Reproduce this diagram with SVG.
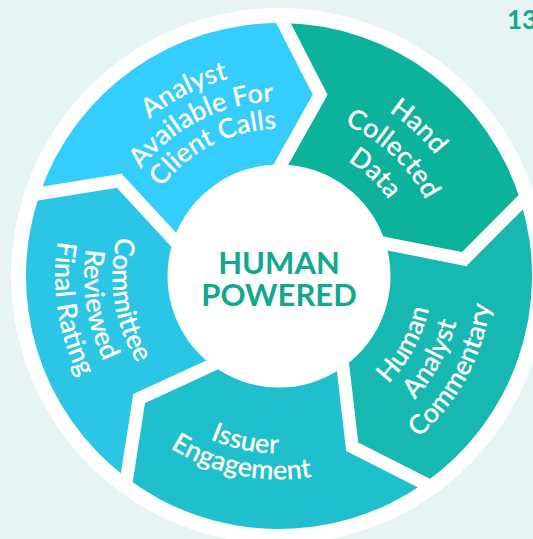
<svg xmlns="http://www.w3.org/2000/svg" xmlns:xlink="http://www.w3.org/1999/xlink" width="533" height="539" viewBox="0 0 533 539">
  <style>
    .lbl { font-family: Lato, "Liberation Sans", sans-serif; font-weight: 600; font-size: 27px; fill: #ffffff; }
    .ctr { font-family: Lato, "Liberation Sans", sans-serif; font-weight: 700; font-size: 31px; fill: #13a88e; text-anchor: middle; }
    .div { fill: none; stroke: #ffffff; stroke-width: 13; stroke-linejoin: miter; }
  </style>
  <defs>
    <path id="seg" d="M279,23 A253,253 0 0 1 519.62,197.82 L463.83,255.9 L385.04,241.54 A111.5,111.5 0 0 0 279,164.5 L317,94 Z"/>
    <polyline id="chev" points="273.34,12.42 317,94 271.41,178.58"/>
    <path id="pa1" d="M77.02,300.8 A203.5,203.5 0 0 1 417.79,127.17"/>
    <path id="pa2" d="M105.8,297.27 A174.5,174.5 0 0 1 398.01,148.38"/>
    <path id="pa3" d="M133.1,293.91 A147,147 0 0 1 379.25,168.49"/>
    <path id="ph1" d="M189.34,100.03 A197.5,197.5 0 0 1 460.8,353.17"/>
    <path id="ph2" d="M204.09,128.98 A165,165 0 0 1 430.88,340.47"/>
    <path id="ph3" d="M218.39,157.05 A133.5,133.5 0 0 1 401.89,328.16"/>
    <path id="pc1" d="M256.31,427.81 A153.5,153.5 0 0 0 393.97,174.29"/>
    <path id="pc2" d="M251.88,457.49 A183.5,183.5 0 0 0 416.43,154.41"/>
    <path id="pc3" d="M247.44,487.16 A213.5,213.5 0 0 0 438.9,134.53"/>
    <path id="pi1" d="M103.45,302.24 A177.5,177.5 0 0 0 430.34,368.74"/>
    <path id="pi2" d="M77.73,306.08 A203.5,203.5 0 0 0 452.51,382.33"/>
    <path id="pr1" d="M198.28,130.38 A166.5,166.5 0 0 0 247.23,439.44"/>
    <path id="pr2" d="M184.46,105.45 A195,195 0 0 0 241.79,467.42"/>
    <path id="pr3" d="M170.4,80.09 A224,224 0 0 0 236.26,495.89"/>
  </defs>
  <rect width="533" height="539" fill="#e6f5f3"/>
  <text x="507" y="29" font-family="Lato, 'Liberation Sans', sans-serif" font-weight="700" font-size="26" fill="#13a88e">13</text>
  <circle cx="279" cy="276" r="268" fill="#ffffff"/>

  <g id="node-hand-collected-data">
    <use xlink:href="#seg" href="#seg" transform="rotate(1 279 276)" fill="#0db29b"/>
  </g>
  <g id="node-human-analyst-commentary">
    <use xlink:href="#seg" href="#seg" transform="rotate(73 279 276)" fill="#17b8b2"/>
  </g>
  <g id="node-issuer-engagement">
    <use xlink:href="#seg" href="#seg" transform="rotate(145 279 276)" fill="#20bfcd"/>
  </g>
  <g id="node-committee-reviewed">
    <use xlink:href="#seg" href="#seg" transform="rotate(217 279 276)" fill="#2bc6e5"/>
  </g>
  <g id="node-analyst-available">
    <use xlink:href="#seg" href="#seg" transform="rotate(289 279 276)" fill="#35ccfe"/>
  </g>

  <g id="connectors">
    <use xlink:href="#chev" href="#chev" class="div" transform="rotate(1 279 276)"/>
    <use xlink:href="#chev" href="#chev" class="div" transform="rotate(73 279 276)"/>
    <use xlink:href="#chev" href="#chev" class="div" transform="rotate(145 279 276)"/>
    <use xlink:href="#chev" href="#chev" class="div" transform="rotate(217 279 276)"/>
    <use xlink:href="#chev" href="#chev" class="div" transform="rotate(289 279 276)"/>
  </g>

  <g id="labels">
    <text class="lbl" text-anchor="middle"><textPath href="#pa1" xlink:href="#pa1" startOffset="50%">Analyst</textPath></text>
    <text class="lbl" text-anchor="middle"><textPath href="#pa2" xlink:href="#pa2" startOffset="50%">Available For</textPath></text>
    <text class="lbl" text-anchor="middle"><textPath href="#pa3" xlink:href="#pa3" startOffset="50%">Client Calls</textPath></text>

    <text class="lbl" text-anchor="middle"><textPath href="#ph1" xlink:href="#ph1" startOffset="50%">Hand</textPath></text>
    <text class="lbl" text-anchor="middle"><textPath href="#ph2" xlink:href="#ph2" startOffset="50%">Collected</textPath></text>
    <text class="lbl" text-anchor="middle"><textPath href="#ph3" xlink:href="#ph3" startOffset="50%">Data</textPath></text>

    <text class="lbl" text-anchor="middle"><textPath href="#pc1" xlink:href="#pc1" startOffset="50%">Human</textPath></text>
    <text class="lbl" text-anchor="middle"><textPath href="#pc2" xlink:href="#pc2" startOffset="50%">Analyst</textPath></text>
    <text class="lbl" text-anchor="middle"><textPath href="#pc3" xlink:href="#pc3" startOffset="50%">Commentary</textPath></text>

    <text class="lbl" text-anchor="middle"><textPath href="#pi1" xlink:href="#pi1" startOffset="50%">Issuer</textPath></text>
    <text class="lbl" text-anchor="middle"><textPath href="#pi2" xlink:href="#pi2" startOffset="50%">Engagement</textPath></text>

    <text class="lbl" text-anchor="middle"><textPath href="#pr1" xlink:href="#pr1" startOffset="50%">Committee</textPath></text>
    <text class="lbl" text-anchor="middle"><textPath href="#pr2" xlink:href="#pr2" startOffset="50%">Reviewed</textPath></text>
    <text class="lbl" text-anchor="middle"><textPath href="#pr3" xlink:href="#pr3" startOffset="50%">Final Rating</textPath></text>
  </g>

  <g id="node-center">
    <text class="ctr" x="279" y="274">HUMAN</text>
    <text class="ctr" x="279" y="306">POWERED</text>
  </g>
</svg>
